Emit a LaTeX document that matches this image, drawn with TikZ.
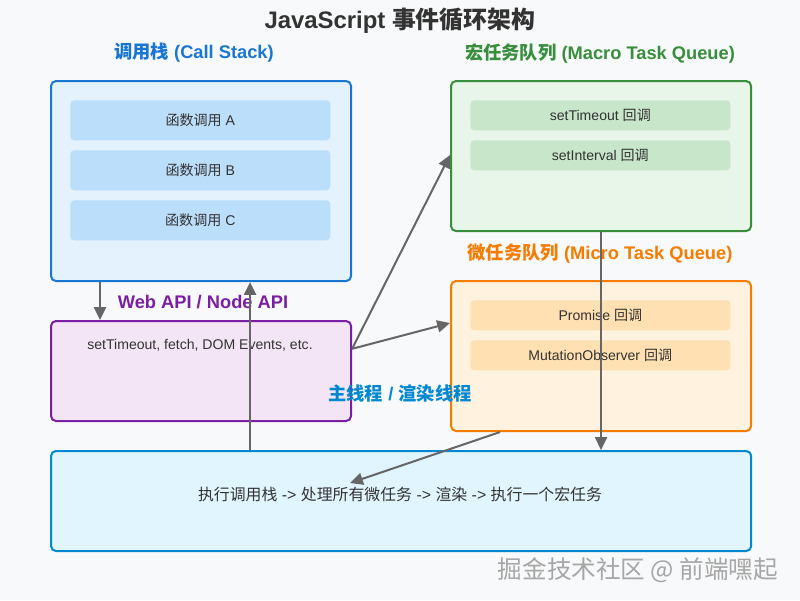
\documentclass[tikz,border=0pt]{standalone}
\usepackage{fontspec}
\setmainfont{Liberation Sans}
\newfontfamily\cjk{Noto Sans CJK SC}
\usetikzlibrary{arrows.meta,calc}
\definecolor{bgcol}{HTML}{F8F9FA}
\definecolor{txtcol}{HTML}{333333}
\definecolor{arrcol}{HTML}{666666}
\definecolor{stackline}{HTML}{1976D2}
\definecolor{stackfill}{HTML}{E3F2FD}
\definecolor{stackitem}{HTML}{BBDEFB}
\definecolor{macroline}{HTML}{388E3C}
\definecolor{macrofill}{HTML}{E8F5E9}
\definecolor{macroitem}{HTML}{C8E6C9}
\definecolor{microline}{HTML}{F57C00}
\definecolor{microfill}{HTML}{FFF3E0}
\definecolor{microitem}{HTML}{FFE0B2}
\definecolor{apiline}{HTML}{7B1FA2}
\definecolor{apifill}{HTML}{F3E5F5}
\definecolor{mainline}{HTML}{0288D1}
\definecolor{mainfill}{HTML}{E1F5FE}
\tikzset{
	panel/.style={draw=#1, line width=0.5mm, rounded corners=1.25mm, anchor=north west, inner sep=0pt},
	item/.style={fill=#1, rounded corners=1mm, minimum width=6.5cm, anchor=north west, inner sep=0pt, text=txtcol, font=\fontsize{10}{12}\selectfont},
	heading/.style={text=#1, font=\fontsize{13}{15}\selectfont\bfseries},
	arr/.style={draw=arrcol, line width=0.5mm, -{Triangle[length=3.2mm,width=3mm]}}
}

\begin{document}
\begin{tikzpicture}[x=0.025cm, y=-0.025cm]
		\fill[bgcol] (0,0) rectangle (800,600);
		\useasboundingbox (0,0) rectangle (800,600);
		
		\node[font=\fontsize{17}{19}\selectfont\bfseries, text=txtcol] (title) at (400,21) {JavaScript {\cjk 事件循环架构}};
		
		% call stack
		\node[heading=stackline] (stacklbl) at (194,53) {{\cjk 调用栈} (Call Stack)};
		\node[panel=stackline, fill=stackfill, minimum width=7.5cm, minimum height=5cm] (stack) at (50,80) {};
		\node[item=stackitem, minimum height=1cm] (fa) at (70,100) {{\cjk 函数调用} A};
		\node[item=stackitem, minimum height=1cm] (fb) at (70,150) {{\cjk 函数调用} B};
		\node[item=stackitem, minimum height=1cm] (fc) at (70,200) {{\cjk 函数调用} C};
		
		% macro tasks
		\node[heading=macroline] (macrolbl) at (600,53) {{\cjk 宏任务队列} (Macro Task Queue)};
		\node[panel=macroline, fill=macrofill, minimum width=7.5cm, minimum height=3.75cm] (macro) at (450,80) {};
		\node[item=macroitem, minimum height=0.75cm] (timeout) at (470,100) {setTimeout {\cjk 回调}};
		\node[item=macroitem, minimum height=0.75cm] (interval) at (470,140) {setInterval {\cjk 回调}};
		
		% micro tasks
		\node[heading=microline] (microlbl) at (600,254) {{\cjk 微任务队列} (Micro Task Queue)};
		\node[panel=microline, fill=microfill, minimum width=7.5cm, minimum height=3.75cm] (micro) at (450,280) {};
		\node[item=microitem, minimum height=0.75cm] (promise) at (470,300) {Promise {\cjk 回调}};
		\node[item=microitem, minimum height=0.75cm] (mutation) at (470,340) {MutationObserver {\cjk 回调}};
		
		% web api
		\node[heading=apiline] (apilbl) at (203,302) {Web API / Node API};
		\node[panel=apiline, fill=apifill, minimum width=7.5cm, minimum height=2.5cm] (webapi) at (50,320) {};
		\node[text=txtcol, font=\fontsize{10}{12}\selectfont] (apitxt) at (200,345) {setTimeout, fetch, DOM Events, etc.};
		
		% main thread
		\node[panel=mainline, fill=mainfill, minimum width=17.5cm, minimum height=2.5cm] (main) at (50,450) {};
		\node[text=txtcol, font=\fontsize{11.3}{13}\selectfont] (maintxt) at (400,494) {{\cjk 执行调用栈} -> {\cjk 处理所有微任务} -> {\cjk 渲染} -> {\cjk 执行一个宏任务}};
		
		\draw[arr] ([xshift=1.25cm]stack.south west) -- ([xshift=1.25cm]webapi.north west);
		\draw[arr] ([xshift=5cm]main.north west) -- ([xshift=5cm]stack.south west);
		\draw[arr] ([yshift=-0.72cm]webapi.north east) -- ([yshift=-1.875cm]macro.north west);
		\draw[arr] ([yshift=-0.72cm]webapi.north east) -- ([yshift=-1.075cm]micro.north west);
		\draw[arr] (macro.south) -- (macro.south |- main.north);
		\draw[arr] ([xshift=1.25cm]micro.south west) -- ([xshift=7.5cm,yshift=-0.825cm]main.north west);
		
		\node[heading=mainline] (mainlbl) at (400,394) {{\cjk 主线程} / {\cjk 渲染线程}};
		
		\node[text=gray!70, font=\fontsize{17.5}{19}\selectfont\cjk] (mark) at (638,570) {掘金技术社区 @ 前端嘿起};
\end{tikzpicture}
\end{document}
